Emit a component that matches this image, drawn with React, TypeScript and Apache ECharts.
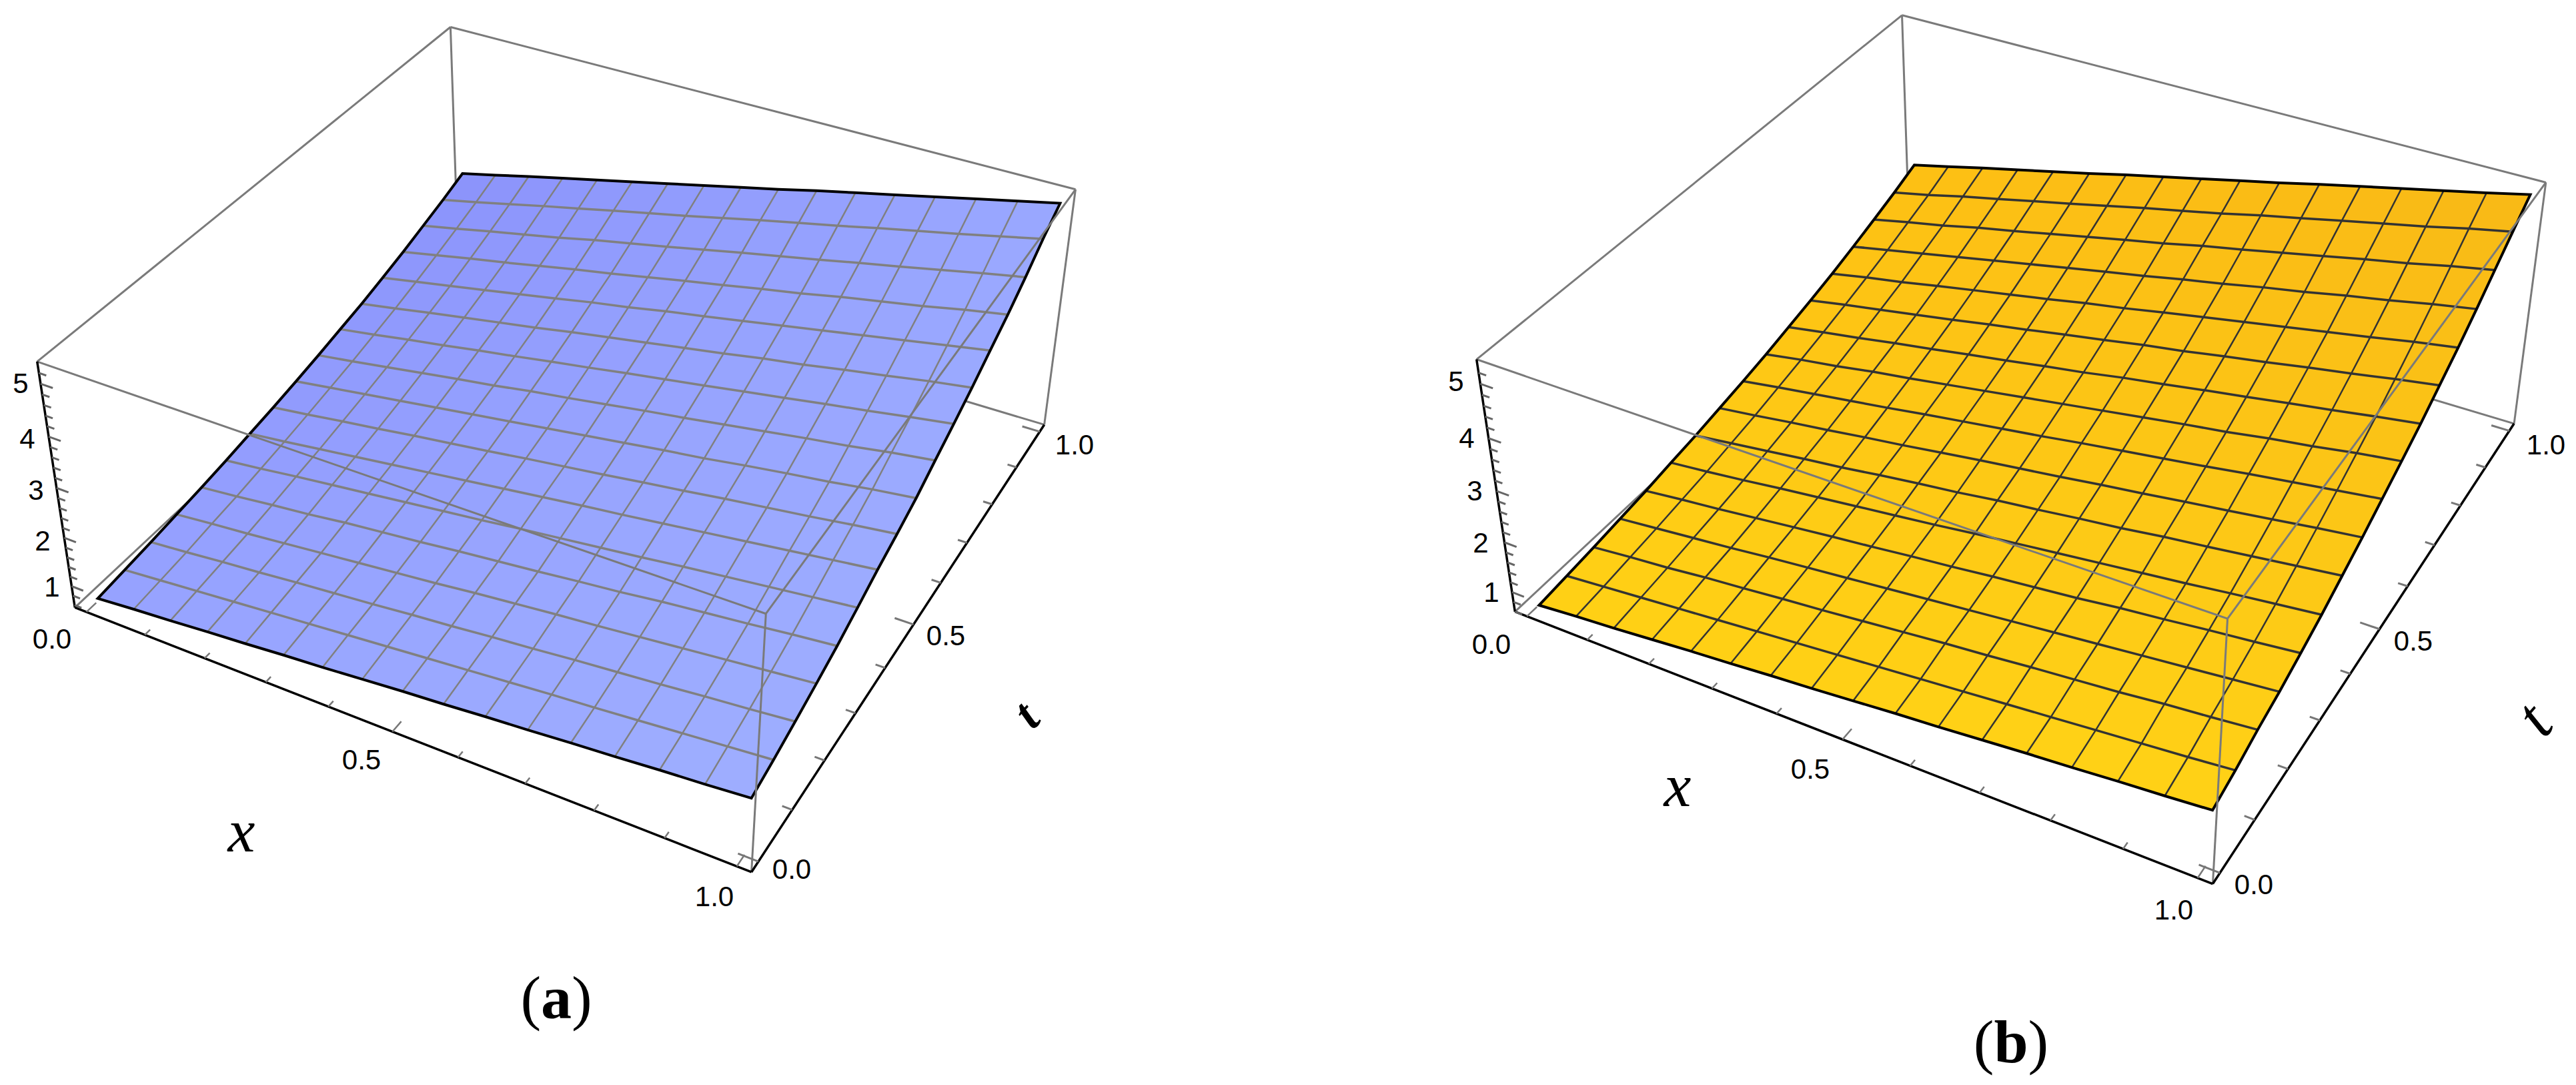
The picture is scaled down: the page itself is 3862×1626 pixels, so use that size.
import React, { useEffect, useRef } from "react";
import * as echarts from "echarts";

const W = 3862, H = 1626, PAD = 0.02, SURFACE_SHIFT = 0.006;
// surface height at mesh nodes: rows t = 0..1, columns x = 0..1 (16 cells each way)
const surfaceA = [
  [0.69,0.76,0.82,0.89,0.95,1.02,1.08,1.15,1.22,1.28,1.35,1.41,1.48,1.54,1.61,1.67,1.74],
  [0.75,0.82,0.89,0.96,1.03,1.10,1.17,1.24,1.31,1.38,1.45,1.52,1.58,1.65,1.72,1.79,1.86],
  [0.81,0.88,0.96,1.03,1.11,1.18,1.25,1.33,1.40,1.48,1.55,1.63,1.70,1.77,1.85,1.92,2.00],
  [0.88,0.96,1.03,1.11,1.19,1.27,1.35,1.43,1.52,1.60,1.68,1.75,1.83,1.91,1.99,2.07,2.15],
  [0.95,1.03,1.12,1.20,1.30,1.38,1.46,1.55,1.63,1.71,1.80,1.88,1.98,2.06,2.14,2.23,2.31],
  [1.03,1.12,1.22,1.31,1.40,1.49,1.58,1.67,1.77,1.86,1.95,2.04,2.14,2.23,2.32,2.41,2.50],
  [1.12,1.21,1.31,1.41,1.51,1.61,1.71,1.81,1.91,2.01,2.10,2.20,2.30,2.40,2.50,2.60,2.70],
  [1.21,1.31,1.42,1.52,1.63,1.73,1.83,1.94,2.04,2.14,2.25,2.35,2.46,2.56,2.66,2.77,2.87],
  [1.31,1.42,1.53,1.64,1.75,1.86,1.97,2.08,2.19,2.30,2.41,2.51,2.63,2.74,2.84,2.96,3.06],
  [1.42,1.53,1.65,1.77,1.89,2.00,2.13,2.24,2.36,2.48,2.59,2.71,2.83,2.95,3.06,3.19,3.30],
  [1.54,1.66,1.79,1.91,2.04,2.16,2.29,2.41,2.54,2.66,2.78,2.91,3.03,3.16,3.28,3.41,3.53],
  [1.66,1.79,1.93,2.06,2.19,2.32,2.46,2.59,2.72,2.85,2.98,3.12,3.24,3.38,3.51,3.65,3.77],
  [1.80,1.94,2.08,2.22,2.36,2.50,2.65,2.78,2.93,3.06,3.20,3.34,3.48,3.62,3.76,3.90,4.04],
  [1.95,2.10,2.25,2.39,2.54,2.69,2.83,2.98,3.13,3.27,3.42,3.56,3.72,3.86,4.00,4.16,4.30],
  [2.12,2.27,2.43,2.58,2.73,2.90,3.05,3.20,3.36,3.52,3.67,3.82,3.98,4.13,4.29,4.45,4.60],
  [2.29,2.45,2.62,2.79,2.95,3.12,3.28,3.44,3.61,3.78,3.94,4.10,4.27,4.43,4.59,4.76,4.93],
  [2.48,2.65,2.83,3.00,3.17,3.34,3.51,3.68,3.85,4.02,4.20,4.37,4.54,4.71,4.88,5.05,5.22],
];
const surfaceB = [
  [0.68,0.75,0.81,0.88,0.95,1.01,1.08,1.14,1.21,1.28,1.34,1.41,1.48,1.54,1.61,1.67,1.74],
  [0.74,0.81,0.88,0.95,1.02,1.09,1.16,1.23,1.30,1.37,1.44,1.51,1.58,1.65,1.72,1.79,1.87],
  [0.80,0.88,0.95,1.04,1.11,1.19,1.26,1.34,1.42,1.50,1.57,1.65,1.72,1.79,1.88,1.95,2.03],
  [0.87,0.95,1.03,1.11,1.20,1.28,1.36,1.44,1.52,1.60,1.68,1.76,1.84,1.92,2.00,2.08,2.16],
  [0.94,1.03,1.11,1.20,1.29,1.38,1.46,1.55,1.63,1.72,1.80,1.88,1.98,2.06,2.15,2.23,2.32],
  [1.03,1.11,1.20,1.30,1.39,1.48,1.57,1.66,1.76,1.85,1.94,2.03,2.12,2.21,2.31,2.40,2.49],
  [1.11,1.21,1.31,1.41,1.50,1.61,1.71,1.80,1.91,2.00,2.10,2.19,2.30,2.39,2.49,2.59,2.69],
  [1.21,1.31,1.42,1.52,1.63,1.73,1.84,1.95,2.05,2.15,2.26,2.36,2.47,2.57,2.68,2.79,2.89],
  [1.31,1.43,1.54,1.65,1.76,1.88,1.99,2.10,2.21,2.33,2.44,2.55,2.66,2.78,2.89,3.00,3.11],
  [1.42,1.55,1.66,1.79,1.90,2.02,2.14,2.26,2.38,2.50,2.62,2.74,2.85,2.98,3.09,3.22,3.33],
  [1.55,1.68,1.80,1.93,2.05,2.18,2.30,2.43,2.55,2.69,2.81,2.94,3.06,3.19,3.31,3.44,3.56],
  [1.68,1.82,1.95,2.08,2.21,2.35,2.48,2.62,2.75,2.89,3.01,3.15,3.28,3.42,3.55,3.69,3.82],
  [1.82,1.97,2.10,2.25,2.39,2.53,2.67,2.82,2.95,3.10,3.24,3.38,3.52,3.66,3.80,3.95,4.08],
  [1.98,2.13,2.28,2.43,2.58,2.73,2.88,3.03,3.17,3.33,3.47,3.63,3.77,3.93,4.07,4.23,4.37],
  [2.15,2.31,2.46,2.63,2.78,2.94,3.10,3.26,3.41,3.58,3.73,3.89,4.05,4.21,4.36,4.53,4.68],
  [2.33,2.49,2.67,2.83,3.00,3.16,3.33,3.50,3.66,3.82,4.00,4.16,4.33,4.49,4.65,4.83,4.99],
  [2.53,2.70,2.88,3.05,3.22,3.39,3.57,3.74,3.91,4.08,4.25,4.43,4.60,4.77,4.94,5.11,5.29],
];
const xTicks = [0,0.1,0.2,0.3,0.4,0.5,0.6,0.7,0.8,0.9,1];
const zTicks = [0.6,0.8,1,1.2,1.4,1.6,1.8,2,2.2,2.4,2.6,2.8,3,3.2,3.4,3.6,3.8,4,4.2,4.4,4.6,4.8,5,5.2];

type P = [number,number,number,number,number];
function fit(pts:P[]){
  const A:number[][]=[];const b:number[]=[];
  for(const [u,v,w,x0,y0] of pts){const x=x0/1000,y=y0/1000;
    A.push([u,v,w,1,0,0,0,0,-x*u,-x*v,-x*w]);b.push(x);
    A.push([0,0,0,0,u,v,w,1,-y*u,-y*v,-y*w]);b.push(y);}
  const n=11;const M=Array.from({length:n},(_,r)=>{const row=new Array(n+1).fill(0);
    for(let k=0;k<A.length;k++){for(let c=0;c<n;c++)row[c]+=A[k][r]*A[k][c];row[n]+=A[k][r]*b[k];}return row;});
  for(let c=0;c<n;c++){let p=c;for(let r=c+1;r<n;r++)if(Math.abs(M[r][c])>Math.abs(M[p][c]))p=r;[M[c],M[p]]=[M[p],M[c]];
    for(let r=0;r<n;r++)if(r!==c){const f=M[r][c]/M[c][c];for(let k=c;k<=n;k++)M[r][k]-=f*M[c][k];}}
  const a=M.map((r,i)=>r[n]/r[i]);
  return (u:number,v:number,w:number):[number,number]=>{const d=a[8]*u+a[9]*v+a[10]*w+1;
    return [1000*(a[0]*u+a[1]*v+a[2]*w+a[3])/d,1000*(a[4]*u+a[5]*v+a[6]*w+a[7])/d];};
}
// camera calibration: where the bounding box's corners fall on the page
const cornersA:P[]=[[0,0,0,112,911],[1,0,0,1126,1306],[1,1,0,1566,637],[0,1,0,687,373],[0,0,1,56,541],[1,0,1,1149,921],[1,1,1,1612,283],[0,1,1,675,41]];
const cornersB:P[]=[[0,0,0,2271,917],[1,0,0,3318,1324],[1,1,0,3769,635],[0,1,0,2863,364],[0,0,1,2214,538],[1,0,1,3339,928],[1,1,1,3817,273],[0,1,1,2851.5,23]];

function panel(corners:P[],zLo:number,zHi:number,surface:number[][],cols:string[],meshColor:string){
  const cam=fit(corners);
  const pr=(x:number,t:number,z:number)=>cam((x+PAD)/(1+2*PAD),(t+PAD)/(1+2*PAD),(z-zLo)/(zHi-zLo));
  const prS=(x:number,t:number,z:number)=>pr(x+SURFACE_SHIFT,t,z);
  const n=surface.length-1,m=surface[0].length-1;
  const mix=(i:number,j:number)=>{const x=i/m,t=j/n;const c=[0,1,2].map(k=>{const h=(s:string)=>parseInt(s.slice(1+2*k,3+2*k),16);
    return Math.round((1-t)*((1-x)*h(cols[0])+x*h(cols[1]))+t*((1-x)*h(cols[2])+x*h(cols[3])));});return `rgb(${c})`;};
  const cells:number[][]=[];for(let j=0;j<n;j++)for(let i=0;i<m;i++)cells.push([i,j]);
  const poly=(p:any[],api:any)=>p.map(q=>api.coord(q));
  const base={type:"custom",coordinateSystem:"cartesian2d",silent:true,clip:false,encode:{x:0,y:1}};
  const L0=-PAD,L1=1+PAD;
  const seg=(data:number[][],color:string,width:number,z:number)=>({...base,z,data,renderItem:(_:any,api:any)=>{
    const a=api.coord(pr(api.value(0),api.value(1),api.value(2))),b=api.coord(pr(api.value(3),api.value(4),api.value(5)));
    return {type:"line",shape:{x1:a[0],y1:a[1],x2:b[0],y2:b[1]},style:{stroke:color,lineWidth:width}};}});
  const rowLine=(idx:number)=>{const o:any[]=[];for(let i=0;i<=m;i++)o.push(prS(i/m,idx/n,surface[idx][i]));return o;};
  const colLine=(idx:number)=>{const o:any[]=[];for(let j=0;j<=n;j++)o.push(prS(idx/m,j/n,surface[j][idx]));return o;};
  const rows=Array.from({length:n-1},(_,k)=>[k+1]);const colsI=Array.from({length:m-1},(_,k)=>[k+1]);
  return [
    seg([[L0,L0,zLo,L0,L1,zLo],[L0,L1,zLo,L1,L1,zLo],[L0,L1,zLo,L0,L1,zHi]],"#7a7a7a",3,1),
    {...base,z:2,data:cells,renderItem:(_:any,api:any)=>{const i=api.value(0),j=api.value(1);const col=mix(i,j);
      return {type:"polygon",shape:{points:poly([prS(i/m,j/n,surface[j][i]),prS((i+1)/m,j/n,surface[j][i+1]),prS((i+1)/m,(j+1)/n,surface[j+1][i+1]),prS(i/m,(j+1)/n,surface[j+1][i])],api)},style:{fill:col,stroke:col,lineWidth:1}};}},
    {...base,z:3,data:rows,renderItem:(_:any,api:any)=>({type:"polyline",shape:{points:poly(rowLine(api.value(0)),api)},style:{stroke:meshColor,lineWidth:3.5,fill:"none"}})},
    {...base,z:3,data:colsI,renderItem:(_:any,api:any)=>({type:"polyline",shape:{points:poly(colLine(api.value(0)),api)},style:{stroke:meshColor,lineWidth:2.5,fill:"none"}})},
    {...base,z:4,data:[[0]],renderItem:(_:any,api:any)=>{const p=[...rowLine(0),...colLine(m),...rowLine(n).reverse(),...colLine(0).reverse()];
      return {type:"polygon",shape:{points:poly(p,api)},style:{stroke:"#000",lineWidth:4,fill:"none"}};}},
    seg([[L0,L0,zHi,L1,L0,zHi],[L1,L0,zHi,L1,L1,zHi],[L0,L0,zHi,L0,L1,zHi],[L0,L1,zHi,L1,L1,zHi],[L1,L0,zLo,L1,L0,zHi],[L1,L1,zLo,L1,L1,zHi]],"#7a7a7a",3,5),
    seg([[L0,L0,zLo,L1,L0,zLo],[L1,L0,zLo,L1,L1,zLo],[L0,L0,zLo,L0,L0,zHi]],"#000",3.5,6),
    seg(xTicks.map((v,k)=>[v,L0,zLo,v,L0+(k%5?0.012:0.022),zLo]),"#777",2.5,7),
    seg(xTicks.map((v,k)=>[L1,v,zLo,L1-(k%5?0.014:0.028),v,zLo]),"#777",3,7),
    seg(zTicks.map(v=>[L0,L0,v,L0+(Math.round(v*5)%5?0.012:0.02),L0,v]),"#666",3,7),
  ];
}

const sa=panel(cornersA,0.551,5.41,surfaceA,["#96a2ff","#9eaeff","#8b93fb","#9aa8ff"],"#808080");
const sb=panel(cornersB,0.6,5.44,surfaceB,["#ffd015","#ffd116","#fdbf14","#f8b816"],"#333333");

const sans="'Liberation Sans'",serif="'Liberation Serif'";
const labels:[string,number,number][]=[["5",31,574],["4",41,657],["3",54,734],["2",64,810],["1",78,879],["0.0",78,957],["0.5",542,1138],["1.0",1071,1343],["0.0",1187,1302],["0.5",1418,952],["1.0",1611,666],
["5",2183,571],["4",2199,656],["3",2211,735],["2",2220,813],["1",2236,887],["0.0",2236,965],["0.5",2714,1152],["1.0",3259,1363],["0.0",3379,1325],["0.5",3618,960],["1.0",3817,666]];
const axisNames:[string,number,number,number,number,string][]=[["x",362,1245,0,92,"normal"],["t",1538,1071,0.8,72,"bold"],["x",2515,1177,0,92,"normal"],["t",3798,1077,0.85,96,"normal"]];
const captions:[string,number,number][]=[["a",834,1495],["b",3015,1561]];

export default function App(){
  const ref=useRef<HTMLDivElement>(null);
  useEffect(()=>{
    document.body.style.margin="0";
    const c=echarts.init(ref.current!,undefined,{renderer:"svg"});
    const texts:any[]=labels.map(([t,x,y])=>({type:"text",x,y,z:10,style:{text:t,fontSize:42,fontFamily:sans,fill:"#000",align:"center",verticalAlign:"middle"}}));
    axisNames.forEach(([t,x,y,r,s,wt])=>texts.push({type:"text",x,y,rotation:r,z:10,style:{text:t,fontSize:s,fontFamily:serif,fontStyle:"italic",fontWeight:wt,fill:"#000",align:"center",verticalAlign:"middle"}}));
    captions.forEach(([t,x,y])=>texts.push({type:"text",x,y,z:10,style:{text:`{p|(}{b|${t}}{p|)}`,align:"center",verticalAlign:"middle",
      rich:{p:{fontSize:92,fontFamily:serif,fill:"#000"},b:{fontSize:92,fontFamily:serif,fontWeight:"bold",fill:"#000"}}}}));
    c.setOption({animation:false,backgroundColor:"#fff",
      grid:{left:0,right:0,top:0,bottom:0},
      xAxis:{type:"value",min:0,max:W,show:false},yAxis:{type:"value",min:0,max:H,inverse:true,show:false},
      graphic:{elements:texts},series:[...sa,...sb]});
    return ()=>c.dispose();
  },[]);
  return <div ref={ref} style={{width:W,height:H}}/>;
}
